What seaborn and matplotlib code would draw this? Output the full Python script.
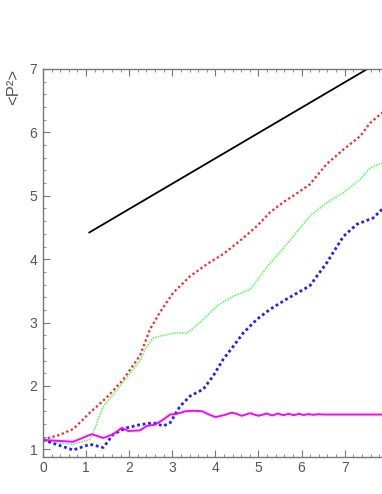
import seaborn as sns
import matplotlib.pyplot as plt
import matplotlib.ticker as ticker

# values
red_x = [0, 0.35, 0.70, 1.09, 1.48, 1.86, 2.25, 2.48, 2.71, 3.02, 3.41, 3.80, 4.18, 4.57, 4.96,
         5.27, 5.62, 5.81, 6.19, 6.58, 6.97, 7.36, 7.59, 7.87, 8.0]
red_y = [1.16, 1.22, 1.32, 1.58, 1.82, 2.10, 2.48, 2.89, 3.16, 3.47, 3.73, 3.92, 4.08, 4.29, 4.52,
         4.74, 4.92, 5.00, 5.18, 5.50, 5.73, 5.94, 6.15, 6.31, 6.38]

green_x = [0, 0.70, 1.09, 1.17, 1.40, 1.79, 2.25, 2.41, 2.56, 2.87, 3.10, 3.33, 3.64, 4.03, 4.42,
           4.80, 5.03, 5.27, 5.42, 5.81, 6.19, 6.58, 6.97, 7.36, 7.59, 7.87, 8.0]
green_y = [1.13, 1.08, 1.16, 1.27, 1.68, 2.00, 2.40, 2.63, 2.76, 2.81, 2.84, 2.83, 3.00, 3.26, 3.42,
           3.52, 3.72, 3.94, 4.05, 4.36, 4.68, 4.89, 5.05, 5.26, 5.44, 5.52, 5.56]

blue_x = [0, 0.70, 1.09, 1.40, 1.63, 1.94, 2.25, 2.56, 2.79, 2.95, 3.18, 3.41, 3.72, 3.95, 4.18,
          4.42, 4.65, 4.96, 5.27, 5.65, 6.19, 6.58, 6.97, 7.28, 7.66, 7.87, 8.0]
blue_y = [1.15, 0.99, 1.08, 1.03, 1.24, 1.34, 1.39, 1.42, 1.37, 1.42, 1.68, 1.84, 1.95, 2.16, 2.42,
          2.63, 2.84, 3.05, 3.21, 3.37, 3.58, 3.94, 4.36, 4.55, 4.65, 4.79, 4.85]

mag_x = [0, 0.70, 1.13, 1.40, 1.63, 1.83, 1.98, 2.25, 2.41, 2.60, 2.79, 2.95, 3.10, 3.30, 3.50,
         3.70, 3.85, 4.00, 4.20, 4.38, 4.50, 4.61, 4.80, 5.00, 5.19, 5.32, 5.45, 5.58, 5.70, 5.82,
         5.94, 6.05, 6.16, 6.27, 6.38, 6.50, 7.00, 8.0]
mag_y = [1.15, 1.12, 1.24, 1.18, 1.24, 1.34, 1.29, 1.30, 1.37, 1.39, 1.47, 1.55, 1.56, 1.60, 1.61,
         1.60, 1.55, 1.51, 1.54, 1.58, 1.56, 1.53, 1.57, 1.53, 1.565, 1.535, 1.565, 1.54, 1.56, 1.54,
         1.56, 1.543, 1.557, 1.545, 1.555, 1.55, 1.55, 1.55]

black_x = [1.07, 8.0]
black_y = [4.42, 7.19]

sns.set_style("white")
plt.rcParams['font.family'] = ['Liberation Sans', 'DejaVu Sans']

x_max = 7.88
fig = plt.figure(figsize=(3.82, 4.94), dpi=100)
ax = fig.add_axes([43 / 382, 37 / 494, x_max * 43.1 / 382, 388 / 494])

sns.lineplot(x=black_x, y=black_y, color="black", lw=1.3, ax=ax, sort=False)
sns.lineplot(x=red_x, y=red_y, color="#ff2020", lw=1.6, linestyle=(0, (1, 1.2)), ax=ax, sort=False)
sns.lineplot(x=green_x, y=green_y, color="#44ff44", lw=1.1, linestyle=(0, (1, 0.8)), ax=ax, sort=False)
sns.lineplot(x=blue_x, y=blue_y, color="#2020ff", lw=2.0, linestyle=(0, (1, 1.0)), ax=ax, sort=False)
sns.lineplot(x=mag_x, y=mag_y, color="#ff00ff", lw=1.4, ax=ax, sort=False)

ax.set_xlim(0, x_max)
ax.set_ylim(0.88, 7)
ax.xaxis.set_major_locator(ticker.MultipleLocator(1))
ax.xaxis.set_minor_locator(ticker.MultipleLocator(0.2))
ax.yaxis.set_major_locator(ticker.MultipleLocator(1))
ax.yaxis.set_minor_locator(ticker.MultipleLocator(0.2))

gray = "#777777"
for side in ["left", "bottom", "top"]:
    ax.spines[side].set_color(gray)
    ax.spines[side].set_linewidth(1.0)
ax.spines["right"].set_visible(False)

ax.tick_params(which="both", direction="in", color=gray, top=True, right=False,
               bottom=True, left=True, labelcolor="#555555", labelsize=10)
ax.tick_params(which="major", length=5, width=0.8)
ax.tick_params(which="minor", length=2.5, width=0.6)
ax.tick_params(axis="x", pad=3)
ax.tick_params(axis="y", pad=4)

ax.set_ylabel("<P²>", loc="top", fontsize=12, color="#555555", labelpad=6)
ax.set_xlabel("")

fig.savefig("out.png", dpi=100)
